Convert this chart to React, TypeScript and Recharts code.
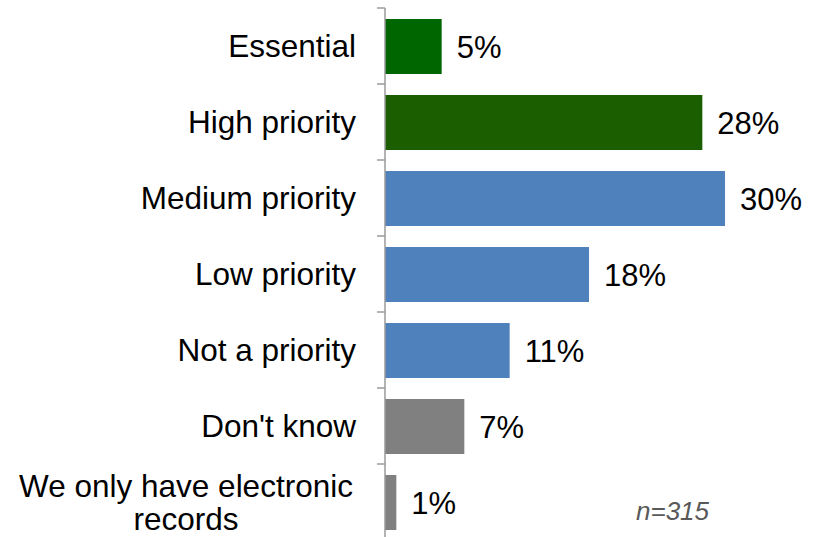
import React from 'react';
import { BarChart, Bar, XAxis, YAxis, Cell, LabelList } from 'recharts';

const categories = [
  'Essential',
  'High priority',
  'Medium priority',
  'Low priority',
  'Not a priority',
  "Don't know",
  'We only have electronic\nrecords',
];
const values = [5, 28, 30, 18, 11, 7, 1];
const barColors = ['#006600', '#1a5e00', '#4f81bd', '#4f81bd', '#4f81bd', '#808080', '#808080'];
const sampleNote = 'n=315';

const data = categories.map((name, i) => ({ name, value: values[i] }));

const W = 821;
const H = 540;
const TOP = 8;
const AXIS_W = 385;
const RIGHT = 96;
const FONT = '"Liberation Sans", Arial, sans-serif';
const FS = 31.5;
const band = (H - TOP) / categories.length;

const CategoryTick = (props: any) => {
  const { y, payload, index } = props;
  const lines = String(payload.value).split('\n');
  const tx = AXIS_W - 29;
  return (
    <g>
      <line x1={AXIS_W - 8} x2={AXIS_W} y1={y - band / 2} y2={y - band / 2} stroke="#9a9a9a" strokeWidth={1.5} />
      {index === categories.length - 1 && (
        <line x1={AXIS_W - 8} x2={AXIS_W} y1={y + band / 2} y2={y + band / 2} stroke="#9a9a9a" strokeWidth={1.5} />
      )}
      {lines.length === 1 ? (
        <text x={tx} y={y} dy="0.35em" textAnchor="end" fontSize={FS} fill="#000" fontFamily={FONT}>
          {lines[0]}
        </text>
      ) : (
        <text x={186} y={y - 16} textAnchor="middle" fontSize={FS} fill="#000" fontFamily={FONT}>
          {lines.map((l, k) => (
            <tspan key={k} x={186} dy={k === 0 ? '0.35em' : 33}>
              {l}
            </tspan>
          ))}
        </text>
      )}
    </g>
  );
};

export default function App() {
  return (
    <div style={{ position: 'absolute', left: 0, top: 0, width: W, height: 537, overflow: 'hidden', background: '#fff' }}>
      <BarChart
        width={W}
        height={H}
        data={data}
        layout="vertical"
        margin={{ top: TOP, right: RIGHT, left: 0, bottom: 0 }}
      >
        <XAxis type="number" domain={[0, 30]} hide />
        <YAxis
          type="category"
          dataKey="name"
          width={AXIS_W}
          axisLine={{ stroke: '#9a9a9a', strokeWidth: 1.5 }}
          tickLine={false}
          tick={<CategoryTick />}
          interval={0}
        />
        <Bar dataKey="value" barSize={55} isAnimationActive={false}>
          {data.map((d, i) => (
            <Cell key={d.name} fill={barColors[i]} />
          ))}
          <LabelList
            dataKey="value"
            position="right"
            offset={15}
            formatter={(v: any) => `${v}%`}
            style={{ fontSize: 31, fill: '#000', fontFamily: FONT }}
          />
        </Bar>
      </BarChart>
      <div
        style={{
          position: 'absolute',
          left: 636,
          top: 496,
          fontFamily: FONT,
          fontStyle: 'italic',
          fontSize: 26,
          color: '#595959',
          lineHeight: '30px',
        }}
      >
        {sampleNote}
      </div>
    </div>
  );
}
